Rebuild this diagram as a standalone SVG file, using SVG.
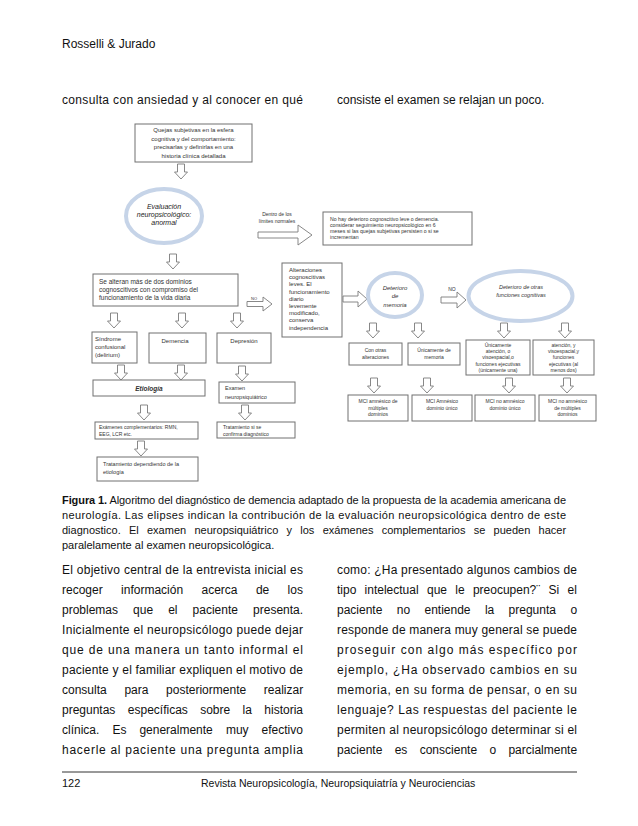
<svg xmlns="http://www.w3.org/2000/svg" xmlns:xlink="http://www.w3.org/1999/xlink" width="638" height="826" viewBox="0 0 638 826">
<style>
.pg{font-family:"Liberation Sans",Arial,sans-serif;fill:#111}
.b12{font-size:12px}
.c11{font-size:11px}
.f{font-family:"Liberation Sans",Arial,sans-serif;fill:#333;font-size:5.5px}
.f6{font-size:6px}
.it{font-style:italic}
.mid{text-anchor:middle}
.bx{fill:#fff;stroke:#707070;stroke-width:1}
.el{fill:#fff;stroke:#c6d4e8;stroke-width:4}
.ar{fill:#fff;stroke:#7a7a7a;stroke-width:0.9}
</style>
<defs>
<path id="da" d="M-3.5,0 H3.5 V8 H6.5 L0,15 L-6.5,8 H-3.5 Z"/>
</defs>
<rect width="638" height="826" fill="#fff"/>

<!-- page text -->
<text class="pg b12" x="62" y="48">Rosselli &amp; Jurado</text>
<text class="pg b12" x="62" y="104" textLength="241" lengthAdjust="spacing">consulta con ansiedad y al conocer en qué</text>
<text class="pg b12" x="337" y="104">consiste el examen se relajan un poco.</text>

<!-- connectors -->
<g id="connectors" class="ar">
<use href="#da" x="181" y="164"/>
<use href="#da" x="173" y="254"/>
<path d="M258,232 H298 V225 L312,235 L298,245 V238 H258 Z"/>
<path d="M247,301.5 H263 V297 L272,304 L263,311 V306.5 H247 Z"/>
<path d="M343,296 H358 V291 L367,299 L358,307 V302 H343 Z"/>
<path d="M441,297 H457 V292 L466,300 L457,308 V303 H441 Z"/>
<use href="#da" x="114" y="313"/>
<use href="#da" x="182" y="313"/>
<use href="#da" x="237" y="313"/>
<use href="#da" x="121" y="365"/>
<use href="#da" x="181" y="365"/>
<use href="#da" x="242" y="366"/>
<use href="#da" x="144" y="405"/>
<use href="#da" x="245" y="405"/>
<use href="#da" x="141" y="441"/>
<use href="#da" x="373" y="323"/>
<use href="#da" x="418" y="323"/>
<use href="#da" x="504" y="323"/>
<use href="#da" x="565" y="323"/>
<use href="#da" x="374" y="378"/>
<use href="#da" x="427" y="378"/>
<use href="#da" x="509" y="378"/>
<use href="#da" x="567" y="378"/>
</g>
<g id="edge-labels" class="f">
<text class="mid" x="277" y="216" style="font-size:5px">Dentro de los</text>
<text class="mid" x="277" y="223" style="font-size:5px">límites normales</text>
<text class="mid" x="254" y="300" style="font-size:4px">NO</text>
<text class="mid" x="452" y="291" style="font-size:5px">NO</text>
</g>

<!-- nodes -->
<g id="n-quejas">
<rect class="bx" x="135" y="124" width="117" height="38"/>
<text class="f f6 mid" x="193.5" y="132">Quejas subjetivas en la esfera</text>
<text class="f f6 mid" x="193.5" y="140.5">cognitiva y  del comportamiento:</text>
<text class="f f6 mid" x="193.5" y="149">precisarlas y definirlas en una</text>
<text class="f f6 mid" x="193.5" y="157.5">historia clínica detallada</text>
</g>
<g id="n-evaluacion">
<ellipse class="el" cx="164" cy="216" rx="38" ry="27"/>
<text class="f it mid" style="font-size:7px;fill:#222" x="164" y="208.5">Evaluación</text>
<text class="f it mid" style="font-size:7px;fill:#222" x="164" y="216.5">neuropsicológico:</text>
<text class="f it mid" style="font-size:7px;fill:#222" x="164" y="224.5">anormal</text>
</g>
<g id="n-nohay">
<rect class="bx" x="323" y="212" width="149" height="33"/>
<text class="f" style="font-size:5.2px" x="330" y="221">No hay deterioro cognoscitivo leve o demencia.</text>
<text class="f" style="font-size:5.2px" x="330" y="227">considerar seguimiento neuropsicológico en 6</text>
<text class="f" style="font-size:5.2px" x="330" y="233">meses si las quejas subjetivas persisten o si se</text>
<text class="f" style="font-size:5.2px" x="330" y="239">incrementan</text>
</g>
<g id="n-sealteran">
<rect class="bx" x="93" y="274" width="145" height="32"/>
<text class="f" style="font-size:6.5px" x="99" y="284">Se alteran más de dos dominios</text>
<text class="f" style="font-size:6.5px" x="99" y="292">cognoscitivos con compromiso del</text>
<text class="f" style="font-size:6.5px" x="99" y="300">funcionamiento de la vida diaria</text>
</g>
<g id="n-alteraciones">
<rect class="bx" x="282" y="263" width="60" height="74"/>
<text class="f f6" x="289" y="272">Alteraciones</text>
<text class="f f6" x="289" y="279.2">cognoscitivas</text>
<text class="f f6" x="289" y="286.4">leves. El</text>
<text class="f f6" x="289" y="293.6">funcionamiento</text>
<text class="f f6" x="289" y="300.8">diario</text>
<text class="f f6" x="289" y="308">levemente</text>
<text class="f f6" x="289" y="315.2">modificado,</text>
<text class="f f6" x="289" y="322.4">conserva</text>
<text class="f f6" x="289" y="329.6">independencia</text>
</g>
<g id="n-memoria">
<ellipse class="el" cx="395" cy="295" rx="27" ry="22"/>
<text class="f f6 it mid" x="395" y="290">Deterioro</text>
<text class="f f6 it mid" x="395" y="298">de</text>
<text class="f f6 it mid" x="395" y="307">memoria</text>
</g>
<g id="n-otras">
<ellipse class="el" cx="520.5" cy="296" rx="52" ry="25"/>
<text class="f it mid" x="521" y="289">Deterioro de otras</text>
<text class="f it mid" x="521" y="297">funciones cognitivas</text>
</g>
<g id="n-conotras">
<rect class="bx" x="349" y="343" width="53" height="22"/>
<text class="f mid" style="font-size:5px" x="375.5" y="352">Con otras</text>
<text class="f mid" style="font-size:5px" x="375.5" y="358.5">alteraciones</text>
</g>
<g id="n-unimemoria">
<rect class="bx" x="408" y="343" width="52" height="22"/>
<text class="f mid" style="font-size:5px" x="434" y="352">Únicamente de</text>
<text class="f mid" style="font-size:5px" x="434" y="358.5">memoria</text>
</g>
<g id="n-uniatencion">
<rect class="bx" x="466" y="340" width="64" height="35"/>
<text class="f mid" style="font-size:5px" x="498" y="347">Únicamente</text>
<text class="f mid" style="font-size:5px" x="498" y="353.2">atención, o</text>
<text class="f mid" style="font-size:5px" x="498" y="359.4">visoespacial,o</text>
<text class="f mid" style="font-size:5px" x="498" y="365.6">funciones  ejecutivas</text>
<text class="f mid" style="font-size:5px" x="498" y="371.8">(únicamente una)</text>
</g>
<g id="n-atencion2">
<rect class="bx" x="533" y="340" width="61" height="35"/>
<text class="f mid" style="font-size:5px" x="563.5" y="347">atención, y</text>
<text class="f mid" style="font-size:5px" x="563.5" y="353.2">visoespacial,y</text>
<text class="f mid" style="font-size:5px" x="563.5" y="359.4">funciones</text>
<text class="f mid" style="font-size:5px" x="563.5" y="365.6">ejecutivas (al</text>
<text class="f mid" style="font-size:5px" x="563.5" y="371.8">menos dos)</text>
</g>
<g id="n-mci1">
<rect class="bx" x="348" y="395" width="60" height="26"/>
<text class="f mid" style="font-size:5px" x="378" y="403">MCI amnésico  de</text>
<text class="f mid" style="font-size:5px" x="378" y="409.5">múltiples</text>
<text class="f mid" style="font-size:5px" x="378" y="416">dominios</text>
</g>
<g id="n-mci2">
<rect class="bx" x="412" y="395" width="60" height="26"/>
<text class="f mid" style="font-size:5px" x="442" y="403">MCI Amnésico</text>
<text class="f mid" style="font-size:5px" x="442" y="409.5">dominio único</text>
</g>
<g id="n-mci3">
<rect class="bx" x="475" y="395" width="60" height="26"/>
<text class="f mid" style="font-size:5px" x="505" y="403">MCI no amnésico</text>
<text class="f mid" style="font-size:5px" x="505" y="409.5">dominio único</text>
</g>
<g id="n-mci4">
<rect class="bx" x="539" y="395" width="57" height="26"/>
<text class="f mid" style="font-size:5px" x="567.5" y="403">MCI no amnésico</text>
<text class="f mid" style="font-size:5px" x="567.5" y="409.5">de múltiples</text>
<text class="f mid" style="font-size:5px" x="567.5" y="416">dominios</text>
</g>
<g id="n-sindrome">
<rect class="bx" x="92" y="332" width="45" height="31"/>
<text class="f f6" x="95" y="341">Síndrome</text>
<text class="f f6" x="95" y="349">confusional</text>
<text class="f f6" x="95" y="357">(delirium)</text>
</g>
<g id="n-demencia">
<rect class="bx" x="149" y="333" width="57" height="30"/>
<text class="f f6 mid" x="175" y="343">Demencia</text>
</g>
<g id="n-depresion">
<rect class="bx" x="217" y="333" width="54" height="30"/>
<text class="f f6 mid" x="244" y="343">Depresión</text>
</g>
<g id="n-etiologia">
<rect class="bx" x="93" y="380" width="112" height="16"/>
<text class="f it mid" style="font-size:6.5px;font-weight:bold" x="149" y="391">Etiología</text>
</g>
<g id="n-examen">
<rect class="bx" x="219" y="382" width="76" height="21"/>
<text class="f" style="font-size:5.5px" x="225" y="389.5">Examen</text>
<text class="f" style="font-size:5.5px" x="225" y="398.5">neuropsiquiátrico</text>
</g>
<g id="n-examenes">
<rect class="bx" x="95" y="422" width="103" height="17"/>
<text class="f" style="font-size:5px" x="99" y="429">Exámenes complementarios: RMN,</text>
<text class="f" style="font-size:5px" x="99" y="436">EEG, LCR etc.</text>
</g>
<g id="n-tratsi">
<rect class="bx" x="217" y="422" width="78" height="16"/>
<text class="f" style="font-size:5px" x="223" y="429">Tratamiento si se</text>
<text class="f" style="font-size:5px" x="223" y="435.5">confirma diagnóstico</text>
</g>
<g id="n-tratdep">
<rect class="bx" x="97" y="457" width="101" height="24"/>
<text class="f" style="font-size:5.5px" x="103" y="466">Tratamiento dependiendo de la</text>
<text class="f" style="font-size:5.5px" x="103" y="474">etiología</text>
</g>

<!-- caption -->
<g class="pg c11">
<text x="62" y="504" textLength="504" lengthAdjust="spacing"><tspan font-weight="bold">Figura 1.</tspan> Algoritmo del diagnóstico de demencia adaptado de la propuesta de la academia americana de</text>
<text x="62" y="519" textLength="504" lengthAdjust="spacing">neurología. Las elipses indican la contribución de la evaluación neuropsicológica dentro de este</text>
<text y="534"><tspan x="62">diagnostico.</tspan><tspan x="129">El</tspan><tspan x="147">examen</tspan><tspan x="194.5">neuropsiquiátrico</tspan><tspan x="286.5">y</tspan><tspan x="300.3">los</tspan><tspan x="322.7">exámenes</tspan><tspan x="381.7">complementarios</tspan><tspan x="473.7">se</tspan><tspan x="493.6">pueden</tspan><tspan x="538.6">hacer</tspan></text>
<text x="62" y="549">paralelamente al examen neuropsicológica.</text>
</g>

<!-- body left -->
<g class="pg b12">
<text x="62" y="574" textLength="241" lengthAdjust="spacing">El objetivo central de la entrevista inicial es</text>
<text y="594"><tspan x="62">recoger</tspan><tspan x="121.1">información</tspan><tspan x="201.5">acerca</tspan><tspan x="255.9">de</tspan><tspan x="287.6">los</tspan></text>
<text y="614"><tspan x="62">problemas</tspan><tspan x="133.1">que</tspan><tspan x="168.2">el</tspan><tspan x="192.6">paciente</tspan><tspan x="253.1">presenta.</tspan></text>
<text x="62" y="634" textLength="241" lengthAdjust="spacing">Inicialmente el neuropsicólogo puede dejar</text>
<text x="62" y="654" textLength="241" lengthAdjust="spacing">que de una manera un tanto informal el</text>
<text x="62" y="674" textLength="241" lengthAdjust="spacing">paciente y el familiar expliquen el motivo de</text>
<text y="694"><tspan x="62">consulta</tspan><tspan x="124.4">para</tspan><tspan x="166.1">posteriormente</tspan><tspan x="263.8">realizar</tspan></text>
<text y="714"><tspan x="62">preguntas</tspan><tspan x="127.8">específicas</tspan><tspan x="200.2">sobre</tspan><tspan x="242.6">la</tspan><tspan x="264.3">historia</tspan></text>
<text y="734"><tspan x="62">clínica.</tspan><tspan x="112.4">Es</tspan><tspan x="139.4">generalmente</tspan><tspan x="225.9">muy</tspan><tspan x="261.6">efectivo</tspan></text>
<text x="62" y="754" textLength="241" lengthAdjust="spacing">hacerle al paciente una pregunta amplia</text>
</g>
<!-- body right -->
<g class="pg b12">
<text x="337" y="574" textLength="240" lengthAdjust="spacing">como: ¿Ha presentado algunos cambios de</text>
<text y="594"><tspan x="337">tipo</tspan><tspan x="364.6">intelectual</tspan><tspan x="427">que</tspan><tspan x="455.3">le</tspan><tspan x="472.9">preocupen?¨</tspan><tspan x="548.6">Si</tspan><tspan x="567.6">el</tspan></text>
<text y="614"><tspan x="337">paciente</tspan><tspan x="396.8">no</tspan><tspan x="424.5">entiende</tspan><tspan x="484.9">la</tspan><tspan x="508.6">pregunta</tspan><tspan x="570.4">o</tspan></text>
<text x="337" y="634" textLength="240" lengthAdjust="spacing">responde de manera muy general se puede</text>
<text x="337" y="654" textLength="240" lengthAdjust="spacing">proseguir con algo más específico por</text>
<text x="337" y="674" textLength="240" lengthAdjust="spacing">ejemplo, ¿Ha observado cambios en su</text>
<text x="337" y="694" textLength="240" lengthAdjust="spacing">memoria, en su forma de pensar, o en su</text>
<text x="337" y="714" textLength="240" lengthAdjust="spacing">lenguaje? Las respuestas del paciente le</text>
<text x="337" y="734" textLength="240" lengthAdjust="spacing">permiten al neuropsicólogo determinar si el</text>
<text y="754"><tspan x="337">paciente</tspan><tspan x="394.7">es</tspan><tspan x="419.7">consciente</tspan><tspan x="489.4">o</tspan><tspan x="508.4">parcialmente</tspan></text>
</g>

<!-- footer -->
<line x1="62" y1="772" x2="577" y2="772" stroke="#333" stroke-width="1"/>
<text class="pg" style="font-size:11px" x="62" y="787">122</text>
<text class="pg" style="font-size:10.5px" x="201" y="787">Revista Neuropsicología, Neuropsiquiatría y Neurociencias</text>
</svg>
